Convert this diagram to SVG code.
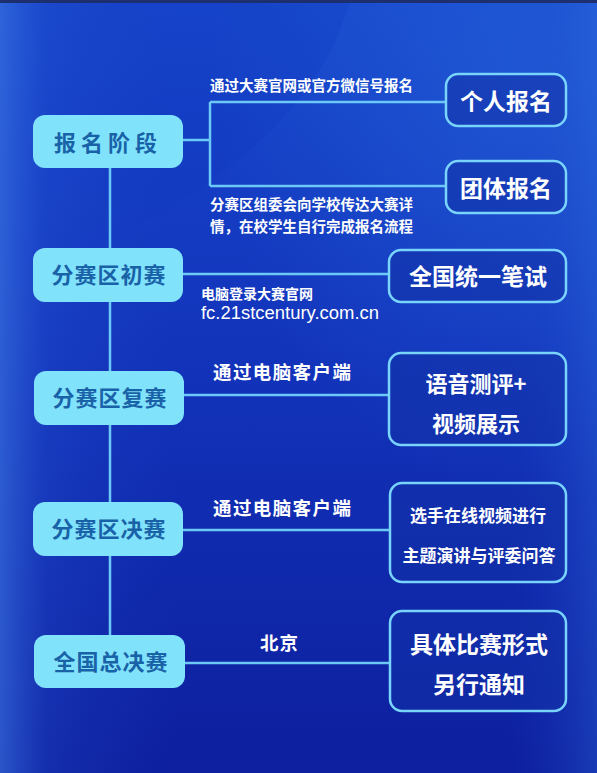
<svg xmlns="http://www.w3.org/2000/svg" width="597" height="773" viewBox="0 0 597 773">
<defs>
<linearGradient id="bg" x1="0" y1="0" x2="0" y2="1">
<stop offset="0" stop-color="#1747cc"/>
<stop offset="0.45" stop-color="#1234bb"/>
<stop offset="1" stop-color="#0d1f9e"/>
</linearGradient>
<linearGradient id="edge" x1="0" y1="0" x2="1" y2="0">
<stop offset="0" stop-color="#3f7ae6" stop-opacity="0.6"/>
<stop offset="0.08" stop-color="#2a5ad8" stop-opacity="0.25"/>
<stop offset="0.3" stop-color="#1a3dc0" stop-opacity="0"/>
<stop offset="0.85" stop-color="#1a3dc0" stop-opacity="0"/>
<stop offset="1" stop-color="#2f6ee0" stop-opacity="0.35"/>
</linearGradient>
<radialGradient id="glow" cx="0.9" cy="0.1" r="0.55">
<stop offset="0" stop-color="#2a6ee0" stop-opacity="0.45"/>
<stop offset="1" stop-color="#2a6ee0" stop-opacity="0"/>
</radialGradient>
<style>
.lbox{fill:#80e2fb;}
.ltxt{font-family:"Noto Sans CJK SC",sans-serif;font-weight:700;fill:#1a62a8;text-anchor:middle;}
.rbox{fill:#1231a8;fill-opacity:0.55;stroke:#79d4fb;stroke-width:2.5;}
.rtxt{font-family:"Noto Sans CJK SC",sans-serif;font-weight:700;fill:#ffffff;text-anchor:middle;}
.lab{font-family:"Noto Sans CJK SC",sans-serif;font-weight:700;fill:#ffffff;}
.con{stroke:#6cc9f5;stroke-width:2.5;fill:none;}
</style>
</defs>
<rect x="0" y="0" width="597" height="773" fill="url(#bg)"/>
<rect x="0" y="0" width="597" height="773" fill="url(#glow)"/>
<path d="M350 0 C 320 110, 220 200, 0 290 L0 0 Z" fill="#0f36c0" fill-opacity="0.25"/>
<rect x="0" y="0" width="597" height="773" fill="url(#edge)"/>
<rect x="0" y="0" width="597" height="3" fill="#1d2f6e"/>

<g id="connectors">
<line class="con" x1="110" y1="168" x2="110" y2="635"/>
<line class="con" x1="183" y1="140" x2="210" y2="140"/>
<line class="con" x1="210" y1="102" x2="210" y2="186"/>
<line class="con" x1="210" y1="102" x2="446" y2="102"/>
<line class="con" x1="210" y1="186" x2="446" y2="186"/>
<line class="con" x1="183" y1="274" x2="389" y2="274"/>
<line class="con" x1="183" y1="395" x2="389" y2="395"/>
<line class="con" x1="183" y1="530" x2="390" y2="530"/>
<line class="con" x1="185" y1="663" x2="390" y2="663"/>
</g>

<g id="n-baoming">
<rect class="lbox" x="33" y="115" width="150" height="53" rx="12"/>
<text class="ltxt" x="108" y="151" font-size="22" letter-spacing="5">报名阶段</text>
</g>
<g id="n-chusai">
<rect class="lbox" x="33" y="248" width="150" height="54" rx="12"/>
<text class="ltxt" x="109" y="283" font-size="22" letter-spacing="1">分赛区初赛</text>
</g>
<g id="n-fusai">
<rect class="lbox" x="34" y="371" width="150" height="54" rx="12"/>
<text class="ltxt" x="110" y="406" font-size="22" letter-spacing="1">分赛区复赛</text>
</g>
<g id="n-juesai">
<rect class="lbox" x="33" y="502" width="150" height="54" rx="12"/>
<text class="ltxt" x="109" y="537" font-size="22" letter-spacing="1">分赛区决赛</text>
</g>
<g id="n-zongjuesai">
<rect class="lbox" x="34" y="635" width="151" height="53" rx="12"/>
<text class="ltxt" x="111" y="670" font-size="22" letter-spacing="1">全国总决赛</text>
</g>

<g id="n-geren">
<rect class="rbox" x="446" y="74" width="120" height="52" rx="12"/>
<text class="rtxt" x="506" y="110" font-size="23">个人报名</text>
</g>
<g id="n-tuanti">
<rect class="rbox" x="446" y="161" width="120" height="52" rx="12"/>
<text class="rtxt" x="506" y="197" font-size="23">团体报名</text>
</g>
<g id="n-bishi">
<rect class="rbox" x="389" y="250" width="177" height="52" rx="12"/>
<text class="rtxt" x="478" y="285" font-size="23">全国统一笔试</text>
</g>
<g id="n-yuyin">
<rect class="rbox" x="389" y="353" width="177" height="92" rx="12"/>
<text class="rtxt" x="476" y="392" font-size="22">语音测评+</text>
<text class="rtxt" x="476" y="432" font-size="22">视频展示</text>
</g>
<g id="n-xuanshou">
<rect class="rbox" x="390" y="483" width="176" height="99" rx="12"/>
<text class="rtxt" x="478" y="522" font-size="17">选手在线视频进行</text>
<text class="rtxt" x="479" y="562" font-size="17">主题演讲与评委问答</text>
</g>
<g id="n-juti">
<rect class="rbox" x="390" y="611" width="176" height="100" rx="12"/>
<text class="rtxt" x="479" y="653" font-size="23">具体比赛形式</text>
<text class="rtxt" x="479" y="693" font-size="23">另行通知</text>
</g>

<g id="labels">
<text class="lab" x="210" y="91" font-size="14.5">通过大赛官网或官方微信号报名</text>
<text class="lab" x="210" y="210" font-size="14.5">分赛区组委会向学校传达大赛详</text>
<text class="lab" x="210" y="232" font-size="14.5">情，在校学生自行完成报名流程</text>
<text class="lab" x="201" y="299" font-size="14">电脑登录大赛官网</text>
<text x="201" y="319" font-size="18" fill="#ffffff" font-family="'Liberation Sans',Arial,sans-serif" textLength="178" lengthAdjust="spacingAndGlyphs">fc.21stcentury.com.cn</text>
<text class="lab" x="213" y="379" font-size="18.5" letter-spacing="1.4">通过电脑客户端</text>
<text class="lab" x="213" y="515" font-size="18.5" letter-spacing="1.4">通过电脑客户端</text>
<text class="lab" x="260" y="650" font-size="18.5" letter-spacing="1">北京</text>
</g>
</svg>
